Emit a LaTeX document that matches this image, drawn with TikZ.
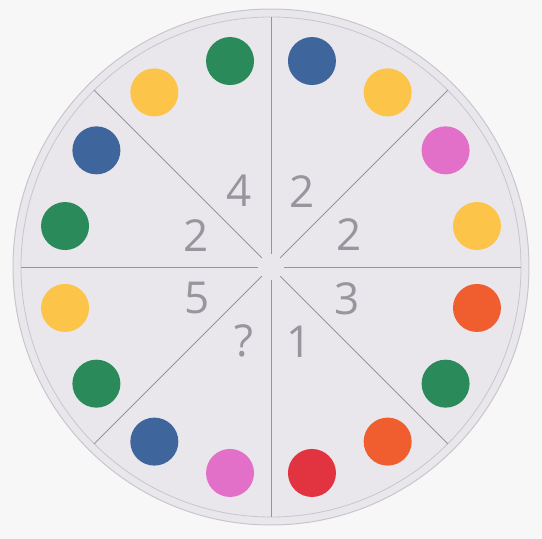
\documentclass[tikz,border=0pt]{standalone}
\usepackage{fontspec}
\setmainfont{Open Sans}
\usetikzlibrary{positioning}
\definecolor{paper}{RGB}{248,247,248}
\definecolor{disc}{RGB}{233,231,236}
\definecolor{rim}{RGB}{200,198,205}
\definecolor{seam}{RGB}{150,149,156}
\definecolor{numgray}{RGB}{150,150,156}
\definecolor{dgreen}{RGB}{42,138,90}
\definecolor{dyellow}{RGB}{252,196,72}
\definecolor{dblue}{RGB}{62,102,156}
\definecolor{dpink}{RGB}{226,112,200}
\definecolor{dorange}{RGB}{240,94,48}
\definecolor{dred}{RGB}{226,52,64}

\begin{document}
\begin{tikzpicture}[
    dot/.style={
        circle,
        minimum size=48pt,
        inner sep=0pt
    },
    digit/.style={
        text=numgray,
        inner sep=0pt,
        font=\fontsize{44}{44}\selectfont
    },
    seamline/.style={draw=seam, line width=0.9pt}
]

% Background and disc
\fill[paper] (-271pt,-272pt) rectangle (271pt,267pt);
\useasboundingbox (-271pt,-272pt) rectangle (271pt,267pt);
\coordinate (c) at (0,0);
\filldraw[fill=disc, draw=rim, line width=1pt] (c) circle (258pt);
\draw[rim, line width=0.8pt] (c) circle (250pt);

% Seams between the pieces
\foreach \a [count=\i] in {0,45,...,315} {
    \coordinate (in\i) at (\a:13pt);
    \coordinate (out\i) at (\a:250pt);
    \draw[seamline] (in\i) -- (out\i);
}

% Dots
\foreach \col [count=\i] in {dyellow,dpink,dyellow,dblue,dgreen,dyellow,dblue,dgreen,
                             dyellow,dgreen,dblue,dpink,dred,dorange,dgreen,dorange} {
    \node[dot, fill=\col] (dot\i) at ({11.25+22.5*(\i-1)}:210pt) {};
}

% Numbers
\node[digit] (n1) at (22.5:84pt) {2};
\node[digit] (n2) at (67.5:82pt) {2};
\node[digit] (n3) at (112.5:83pt) {4};
\node[digit] (n4) at (157.5:81pt) {2};
\node[digit] (n5) at (202.5:80pt) {5};
\node[digit] (n6) at (250:79pt) {?};
\node[digit] (n7) at (290.5:80pt) {1};
\node[digit] (n8) at (337.5:82pt) {3};

\end{tikzpicture}
\end{document}
